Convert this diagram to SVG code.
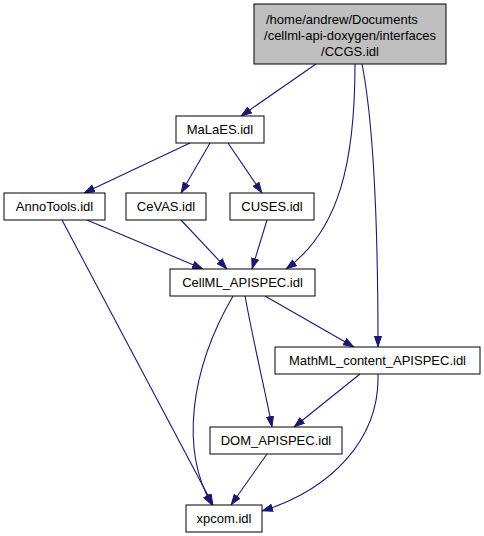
<svg xmlns="http://www.w3.org/2000/svg" width="484" height="536" viewBox="0 0 484 536">
<style>
.n rect{fill:#ffffff;stroke:#000000;stroke-width:1}
.n.root rect{fill:#bfbfbf}
.n text{font-family:"Liberation Sans",Arial,sans-serif;font-size:13px;fill:#000000;text-anchor:middle}
.e path{fill:none;stroke:#191970;stroke-width:1.1;marker-end:url(#ah)}
</style>
<defs>
<marker id="ah" viewBox="0 0 11 8" refX="11" refY="4" markerWidth="11" markerHeight="8" markerUnits="userSpaceOnUse" orient="auto">
<path d="M0.5,0.5 L10.5,4 L0.5,7.5 z" fill="#191970" stroke="#191970" stroke-width="1"/>
</marker>
</defs>
<rect width="484" height="536" fill="#ffffff"/>
<g id="edges" class="e">
<path d="M316,64 L241,116"/>
<path d="M355,64 C355,160 340,230 286,269"/>
<path d="M362,64 C375,130 378,250 378,347"/>
<path d="M190,143 L84,193"/>
<path d="M210,143 L181,193"/>
<path d="M228,143 L262,193"/>
<path d="M87,220 L203,269"/>
<path d="M181,220 L227,269"/>
<path d="M267,220 L252,269"/>
<path d="M62,220 L213,505"/>
<path d="M233,296 C190,370 180,450 212,505"/>
<path d="M245,296 C255,350 265,390 272,427"/>
<path d="M265,296 L354,347"/>
<path d="M360,374 L294,427"/>
<path d="M378,374 C380,440 330,490 262,511"/>
<path d="M267,454 L231,505"/>
</g>
<g id="CCGS" class="n root">
<rect x="254" y="4" width="192" height="60"/>
<text x="266" y="24" style="text-anchor:start">/home/andrew/Documents</text>
<text x="350" y="40">/cellml-api-doxygen/interfaces</text>
<text x="350" y="56">/CCGS.idl</text>
</g>
<g id="MaLaES" class="n">
<rect x="176" y="116" width="88" height="27"/>
<text x="220" y="134">MaLaES.idl</text>
</g>
<g id="AnnoTools" class="n">
<rect x="4" y="193" width="101" height="27"/>
<text x="54.5" y="211">AnnoTools.idl</text>
</g>
<g id="CeVAS" class="n">
<rect x="126" y="193" width="80" height="27"/>
<text x="166" y="211">CeVAS.idl</text>
</g>
<g id="CUSES" class="n">
<rect x="230" y="193" width="84" height="27"/>
<text x="272" y="211">CUSES.idl</text>
</g>
<g id="CellML_APISPEC" class="n">
<rect x="170" y="269" width="145" height="27"/>
<text x="242.5" y="287">CellML_APISPEC.idl</text>
</g>
<g id="MathML_content_APISPEC" class="n">
<rect x="275" y="347" width="205" height="27"/>
<text x="377.5" y="365">MathML_content_APISPEC.idl</text>
</g>
<g id="DOM_APISPEC" class="n">
<rect x="210" y="427" width="132" height="27"/>
<text x="276" y="445">DOM_APISPEC.idl</text>
</g>
<g id="xpcom" class="n">
<rect x="186" y="505" width="76" height="27"/>
<text x="224" y="523">xpcom.idl</text>
</g>
</svg>
